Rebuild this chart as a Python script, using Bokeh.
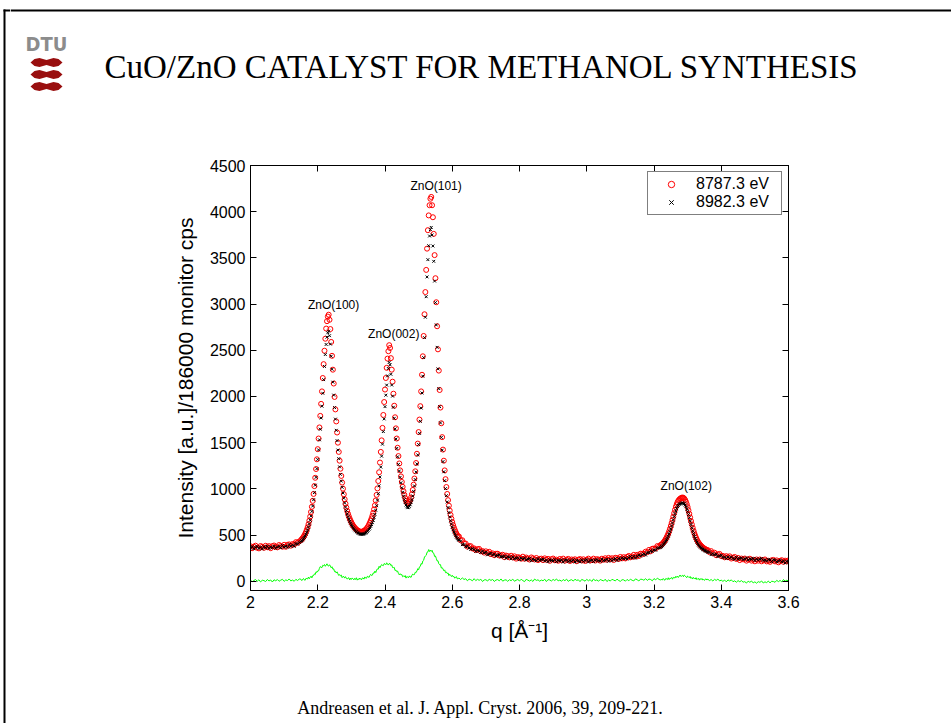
import numpy as np
from bokeh.plotting import figure
from bokeh.layouts import row, column
from bokeh.models import (ColumnDataSource, LinearAxis, FixedTicker, NumeralTickFormatter,
                          Range1d, Label, Legend, LegendItem, CustomJSTickFormatter)
from bokeh.core.properties import value
from bokeh.embed import file_html
from bokeh.resources import INLINE

# ---------------- data ----------------
# q grid is sampled in five segments (start, step); values per segment below
seg_start = [2.00, 2.15, 2.62, 3.2225, 3.36]
seg_step = [0.005, 0.0025, 0.005, 0.0025, 0.005]

red_1 = [379, 358, 374, 385, 363, 356, 381, 373, 362, 384, 368, 380, 358, 380, 387,
         373, 367, 392, 381, 374, 394, 373, 394, 399, 385, 403, 399, 423, 416, 431]
red_2 = [445, 455, 466, 479, 494, 512, 533, 557, 585, 618, 656, 700, 750, 806, 870, 945, 1030, 1120, 1215, 1320,
         1430, 1545, 1665, 1790, 1920, 2055, 2200, 2350, 2495, 2625, 2735, 2815, 2865, 2885, 2830, 2730, 2590, 2440, 2290, 2140,
         1995, 1860, 1730, 1610, 1500, 1400, 1305, 1218, 1140, 1068, 1002, 942, 888, 840, 798, 762, 730, 702, 677, 655,
         636, 619, 604, 591, 579, 569, 560, 552, 546, 541, 537, 535, 535, 537, 540, 545, 551, 559, 569, 581,
         595, 614, 633, 655, 680, 708, 740, 778, 822, 875, 935, 1005, 1085, 1180, 1285, 1400, 1525, 1660, 1800, 1940,
         2075, 2200, 2310, 2410, 2490, 2555, 2525, 2415, 2290, 2160, 2030, 1900, 1775, 1655, 1545, 1445, 1355, 1275, 1200, 1135,
         1075, 1022, 975, 935, 900, 870, 850, 840, 845, 858, 878, 906, 942, 988, 1045, 1112, 1190, 1280, 1380, 1490,
         1615, 1750, 1895, 2055, 2235, 2435, 2655, 2890, 3130, 3370, 3600, 3800, 3960, 4070, 4140, 4160, 4070, 3940, 3760, 3530,
         3280, 3020, 2760, 2510, 2280, 2070, 1880, 1710, 1560, 1425, 1305, 1200, 1105, 1020, 945, 878, 818, 765, 718, 677,
         640, 608, 580, 555, 533, 514, 497, 482]
red_3 = [484, 445, 444, 411, 408, 375, 381, 380, 355, 356, 337, 347, 350, 324, 327, 310, 324, 307, 319, 294,
         302, 282, 298, 298, 279, 280, 287, 261, 278, 272, 259, 276, 258, 270, 245, 261, 256, 244, 266, 244,
         257, 245, 235, 258, 248, 236, 252, 229, 242, 245, 229, 248, 233, 242, 221, 239, 246, 227, 234, 222,
         241, 228, 245, 223, 234, 242, 219, 236, 229, 238, 217, 234, 240, 225, 238, 220, 233, 245, 225, 229,
         245, 224, 239, 235, 223, 244, 233, 249, 233, 253, 239, 249, 230, 254, 250, 241, 263, 248, 261, 247,
         264, 274, 259, 267, 286, 268, 286, 273, 299, 298, 297, 320, 315, 339, 325, 352, 354, 355, 381, 376,
         394]
red_4 = [395, 405, 416, 428, 442, 457, 474, 493, 515, 540, 568, 598, 630, 664, 700, 737, 773, 805, 833, 856,
         872, 884, 893, 899, 904, 906, 903, 895, 880, 860, 834, 803, 768, 730, 691, 652, 615, 580, 548, 519,
         493, 470, 450, 432, 417, 404, 393, 383, 374, 366, 359, 353, 347, 342, 337]
red_5 = [337, 315, 326, 304, 309, 282, 292, 296, 272, 274, 259, 272, 260, 270, 246, 255, 263, 241, 252, 229,
         246, 237, 246, 223, 235, 244, 223, 233, 216, 236, 223, 236, 216, 228, 236, 215, 222, 210, 227, 231,
         215, 226, 205, 221, 228, 210, 223, 215, 226]

black_1 = [359, 375, 352, 368, 376, 356, 369, 350, 374, 363, 379, 355, 372, 363, 379,
           357, 370, 378, 363, 387, 370, 379, 368, 397, 378, 393, 379, 408, 402, 419]
black_2 = [430, 439, 449, 461, 474, 490, 509, 531, 556, 586, 620, 660, 705, 756, 814, 882, 959, 1040, 1125, 1219,
           1318, 1422, 1531, 1646, 1767, 1895, 2035, 2182, 2325, 2454, 2563, 2642, 2690, 2707, 2658, 2567, 2436, 2295, 2155, 2015,
           1880, 1755, 1634, 1522, 1420, 1327, 1238, 1157, 1084, 1017, 955, 899, 848, 803, 764, 730, 700, 674, 650, 629,
           611, 595, 580, 568, 556, 546, 537, 529, 522, 517, 512, 509, 508, 509, 510, 513, 517, 522, 529, 538,
           548, 563, 577, 594, 613, 634, 659, 689, 724, 768, 818, 878, 948, 1033, 1129, 1236, 1354, 1484, 1620, 1757,
           1890, 2014, 2123, 2223, 2303, 2369, 2343, 2240, 2124, 2004, 1884, 1764, 1649, 1539, 1438, 1347, 1265, 1193, 1125, 1066,
           1012, 964, 921, 885, 853, 825, 806, 796, 800, 811, 828, 852, 883, 923, 973, 1032, 1101, 1181, 1270, 1368,
           1480, 1601, 1731, 1875, 2038, 2220, 2421, 2637, 2858, 3080, 3294, 3481, 3632, 3737, 3806, 3830, 3748, 3629, 3463, 3249,
           3016, 2774, 2532, 2299, 2085, 1890, 1714, 1557, 1419, 1295, 1185, 1089, 1003, 926, 858, 798, 744, 697, 655, 619,
           586, 558, 534, 512, 493, 477, 463, 450]
black_3 = [445, 435, 396, 398, 374, 382, 360, 345, 354, 344, 323, 336, 326, 311, 327, 306, 314, 286, 297, 302,
           283, 295, 272, 280, 288, 264, 266, 273, 249, 265, 261, 244, 264, 244, 249, 255, 234, 250, 239, 253,
           231, 239, 246, 223, 239, 232, 223, 245, 226, 235, 239, 220, 229, 212, 233, 225, 219, 235, 213, 226,
           220, 231, 208, 227, 231, 213, 224, 216, 233, 209, 227, 219, 211, 232, 215, 226, 235, 209, 224, 230,
           213, 227, 235, 221, 218, 239, 222, 229, 238, 217, 237, 224, 236, 245, 225, 246, 237, 254, 244, 252,
           241, 256, 267, 252, 269, 251, 269, 283, 272, 287, 297, 284, 308, 309, 332, 321, 340, 336, 358, 362,
           365]
black_4 = [376, 385, 396, 407, 420, 434, 450, 468, 489, 513, 539, 567, 598, 630, 664, 699, 732, 762, 787, 808,
           821, 831, 838, 842, 846, 848, 845, 838, 825, 807, 783, 755, 722, 687, 650, 614, 579, 546, 516, 488,
           464, 443, 424, 407, 393, 381, 371, 362, 354, 346, 340, 335, 329, 325, 320]
black_5 = [311, 316, 288, 299, 286, 293, 268, 275, 281, 257, 263, 247, 264, 248, 263, 246, 238, 259, 238, 247,
           253, 235, 242, 253, 230, 244, 237, 247, 224, 243, 228, 238, 246, 226, 232, 218, 235, 230, 212, 233,
           227, 210, 220, 227, 211, 220, 199, 215, 206]

diff_1 = [13, -6, 8, 19, 0, 16, -7, 11, 7, -3, 19, 3, 14, -8, 16,
          5, 19, 0, 12, 21, -1, 15, 7, 25, 4, 13, 0, 21, 8, 24]
diff_2 = [22, 7, 21, 30, 14, 11, 32, 29, 25, 46, 28, 42, 55, 37, 61, 61, 80, 73, 103, 96,
          113, 113, 140, 159, 150, 148, 173, 167, 181, 162, 176, 189, 169, 164, 179, 165, 146, 157, 131, 134,
          104, 108, 89, 102, 80, 63, 73, 58, 67, 39, 52, 51, 34, 50, 32, 23, 34, 38, 14, 33,
          20, 36, 25, 15, 32, 19, 38, 12, 27, 18, 35, 25, 15, 36, 35, 23, 47, 34, 33, 54,
          49, 41, 62, 75, 62, 66, 90, 87, 110, 94, 121, 134, 131, 162, 147, 165, 181, 172, 169, 191,
          188, 179, 200, 186, 175, 192, 191, 170, 177, 148, 148, 150, 116, 121, 104, 110, 84, 69, 82, 69,
          73, 49, 58, 48, 62, 34, 52, 47, 38, 58, 46, 42, 65, 78, 71, 72, 98, 94, 112, 136,
          125, 156, 161, 192, 184, 220, 228, 263, 273, 281, 314, 317, 343, 322, 338, 323, 335, 307, 303, 269,
          273, 248, 220, 222, 190, 179, 180, 143, 148, 133, 114, 123, 93, 99, 84, 90, 61, 76, 64, 51,
          65, 48, 52, 33, 44, 50, 26, 29]
diff_3 = [35, 18, 37, 19, 28, 5, 23, 17, 5, 28, 7, 21, 10, 22, -3, 14, 17, 2, 23, 9,
          20, -2, 13, 18, 5, 25, 1, 12, 16, -1, 17, 6, 23, 0, 11, 19, 3, 22, 7, -4,
          21, 12, 2, 15, -2, 24, 9, 16, 1, 13, 5, 22, -3, 18, 14, 3, 20, 8, 25, 4,
          13, 0, 19, 6, 23, -1, 11, 17, 2, 22, 9, 16, -4, 20, 12, 1, 21, 5, 18, -2,
          24, 7, 15, 0, 19, 11, 3, 22, -3, 14, 2, 21, 13, 4, 23, 8, -1, 17, 15, 1,
          20, 5, 23, 10, 4, 26, 16, 3, 23, 20, 11, 28, 9, 24, 19, 5, 29, 15, 34, 20,
          13]
diff_4 = [24, 12, 30, 18, 11, 30, 26, 19, 38, 18, 33, 30, 41, 22, 42, 41, 34, 54, 42, 56,
          41, 54, 68, 52, 56, 65, 49, 67, 59, 47, 39, 56, 48, 39, 52, 31, 41, 24, 41, 31,
          24, 39, 18, 28, 30, 12, 29, 18, 30, 14, 20, 9, 23, 25, 13]
diff_5 = [23, 7, 19, 3, 21, 9, 24, 4, 12, -1, 13, -6, 15, 3, 15, -5, 5, -11, 7, -5,
          7, -10, -4, -20, 1, -11, 3, -18, -6, -21, -4, -12, 3, -19, -6, -15, 2, -18, 0, -3,
          -11, 10, -4, 9, -7, 19, 1, 11, 4]

x_ticks = [2.0, 2.2, 2.4, 2.6, 2.8, 3.0, 3.2, 3.4, 3.6]
y_ticks = [0, 500, 1000, 1500, 2000, 2500, 3000, 3500, 4000, 4500]

peak_labels = ["ZnO(100)", "ZnO(002)", "ZnO(101)", "ZnO(102)"]
peak_label_q = [2.247, 2.426, 2.552, 3.296]
peak_label_I = [2990, 2675, 4280, 1030]

legend_labels = ["8787.3 eV", "8982.3 eV"]
title_text = "CuO/ZnO CATALYST FOR METHANOL SYNTHESIS"
footer_text = "Andreasen et al. J. Appl. Cryst. 2006, 39, 209-221."
logo_text = "DTU"

# ---------------- assemble ----------------
red_segs = [red_1, red_2, red_3, red_4, red_5]
black_segs = [black_1, black_2, black_3, black_4, black_5]
diff_segs = [diff_1, diff_2, diff_3, diff_4, diff_5]
for a, b, c in zip(red_segs, black_segs, diff_segs):
    assert len(a) == len(b) == len(c), (len(a), len(b), len(c))
q = np.concatenate([np.round(s + st * np.arange(len(r)), 5)
                    for s, st, r in zip(seg_start, seg_step, red_segs)])
red = np.concatenate([np.array(r, dtype=float) for r in red_segs])
black = np.concatenate([np.array(b, dtype=float) for b in black_segs])
diff = np.concatenate([np.array(d, dtype=float) for d in diff_segs])
src = ColumnDataSource(dict(q=q, red=red, black=black, diff=diff))

W, H = 951, 723
STRIP = 10          # left strip carrying the slide frame line
MAIN_W = W - STRIP
TOP_H = 125
CHART_H = 535
FOOT_H = H - TOP_H - CHART_H
FONT = "Liberation Sans"
SERIF = "Liberation Serif"
FRAME = "#000000"


def deco_fig(w, h):
    f = figure(width=w, height=h, x_range=Range1d(0, w), y_range=Range1d(h, 0),
               output_backend="svg", toolbar_location=None, title_location=None,
               x_axis_type=None, y_axis_type=None, frame_align=False,
               min_border_left=0, min_border_right=0, min_border_top=0, min_border_bottom=0)
    f.outline_line_color = None
    f.background_fill_color = "white"
    f.border_fill_color = "white"
    f.xgrid.visible = False
    f.ygrid.visible = False
    return f

# ---- left strip: slide frame (left edge) ----
strip = deco_fig(STRIP, H)
strip.quad(left=[3, 3], right=[5, STRIP], top=[9, 9], bottom=[H, 11], fill_color=FRAME, line_color=None)

# ---- top band: title, logo, slide frame top edge ----
top = deco_fig(MAIN_W, TOP_H)
top.quad(left=[0], right=[MAIN_W], top=[9], bottom=[11], fill_color=FRAME, line_color=None)
top.text(x=[104 - STRIP], y=[66], text=[title_text], text_font=value(SERIF),
         text_font_size="33px", text_color="black", text_baseline="middle", text_align="left")
top.text(x=[46 - STRIP], y=[43], text=[logo_text],
         text_font=value("Liberation Sans Narrow, DejaVu Sans Condensed, Liberation Sans"),
         text_font_size="20px", text_font_style="bold", text_color="#8c8c8c",
         text_baseline="middle", text_align="center")
bow_dx = [0, 4, 9, 16, 23, 28, 32, 28, 23, 16, 9, 4]
bow_dy = [0, -3.5, -4.5, -2.5, -4.5, -3.5, 0, 3.5, 4.5, 2.5, 4.5, 3.5]
bow_cy = [62, 74, 86]
top.patches(xs=[[30 - STRIP + d for d in bow_dx] for _ in bow_cy],
            ys=[[cy + d for d in bow_dy] for cy in bow_cy],
            fill_color="#990f0f", line_color=None)

# ---- chart ----
p = figure(width=MAIN_W, height=CHART_H, x_range=Range1d(2.0, 3.6), y_range=Range1d(-100, 4500),
           output_backend="svg", toolbar_location=None, title_location=None, frame_align=False,
           min_border_left=250 - STRIP, min_border_right=163, min_border_top=165 - TOP_H,
           min_border_bottom=CHART_H - (590 - TOP_H))
p.background_fill_color = "white"
p.border_fill_color = "white"
p.outline_line_color = "black"
p.outline_line_width = 1
p.xgrid.visible = False
p.ygrid.visible = False

r_red = p.scatter("q", "red", source=src, marker="circle", size=5, fill_color=None,
                  line_color="#ff0000", line_width=1)
r_black = p.scatter("q", "black", source=src, marker="x", size=4, line_color="black", line_width=1)
p.line("q", "diff", source=src, line_color="#00ff00", line_width=1)


def style_axis(ax, fmt, ticks):
    ax.ticker = FixedTicker(ticks=ticks)
    ax.formatter = fmt
    ax.major_tick_in = 6
    ax.major_tick_out = 0
    ax.minor_tick_line_color = None
    ax.axis_line_color = "black"
    ax.major_tick_line_color = "black"
    ax.major_label_text_font = FONT
    ax.major_label_text_font_size = "16px"
    ax.major_label_text_color = "black"
    ax.axis_label_text_font = FONT
    ax.axis_label_text_font_style = "normal"
    ax.axis_label_text_font_size = "21px"
    ax.axis_label_text_color = "black"


style_axis(p.xaxis[0], NumeralTickFormatter(format="0.[0]"), x_ticks)
style_axis(p.yaxis[0], NumeralTickFormatter(format="0"), y_ticks)
p.xaxis[0].axis_label = "q [Å⁻¹]"
p.xaxis[0].axis_label_standoff = 8
p.xaxis[0].major_label_standoff = 5
p.yaxis[0].axis_label = "Intensity [a.u.]/186000 monitor cps"
p.yaxis[0].axis_label_standoff = 10
p.yaxis[0].major_label_standoff = 5

blank = CustomJSTickFormatter(code="return ''")
top_ax = LinearAxis()
style_axis(top_ax, blank, x_ticks)
top_ax.major_label_text_font_size = "1px"
right_ax = LinearAxis()
style_axis(right_ax, blank, y_ticks)
right_ax.major_label_text_font_size = "1px"
p.add_layout(top_ax, "above")
p.add_layout(right_ax, "right")

legend = Legend(items=[LegendItem(label=legend_labels[0], renderers=[r_red]),
                       LegendItem(label=legend_labels[1], renderers=[r_black])],
                location="top_right", margin=6, padding=3, spacing=0,
                glyph_width=40, glyph_height=16, label_height=16, label_width=82,
                label_standoff=5,
                label_text_font=FONT, label_text_font_size="16px", label_text_color="black",
                border_line_color="black", border_line_width=1,
                background_fill_color="white", background_fill_alpha=1.0)
p.add_layout(legend)

for txt, xq, yi in zip(peak_labels, peak_label_q, peak_label_I):
    p.add_layout(Label(x=xq, y=yi, text=txt, text_align="center", text_baseline="middle",
                       text_font=FONT, text_font_size="12px", text_color="black"))

# ---- footer ----
foot = deco_fig(MAIN_W, FOOT_H)
foot.text(x=[480 - STRIP], y=[707 - TOP_H - CHART_H], text=[footer_text], text_font=value(SERIF),
          text_font_size="18px", text_color="black", text_baseline="middle", text_align="center")

layout = row(strip, column(top, p, foot, spacing=0), spacing=0)
open("out.html", "w").write(file_html(layout, INLINE))
